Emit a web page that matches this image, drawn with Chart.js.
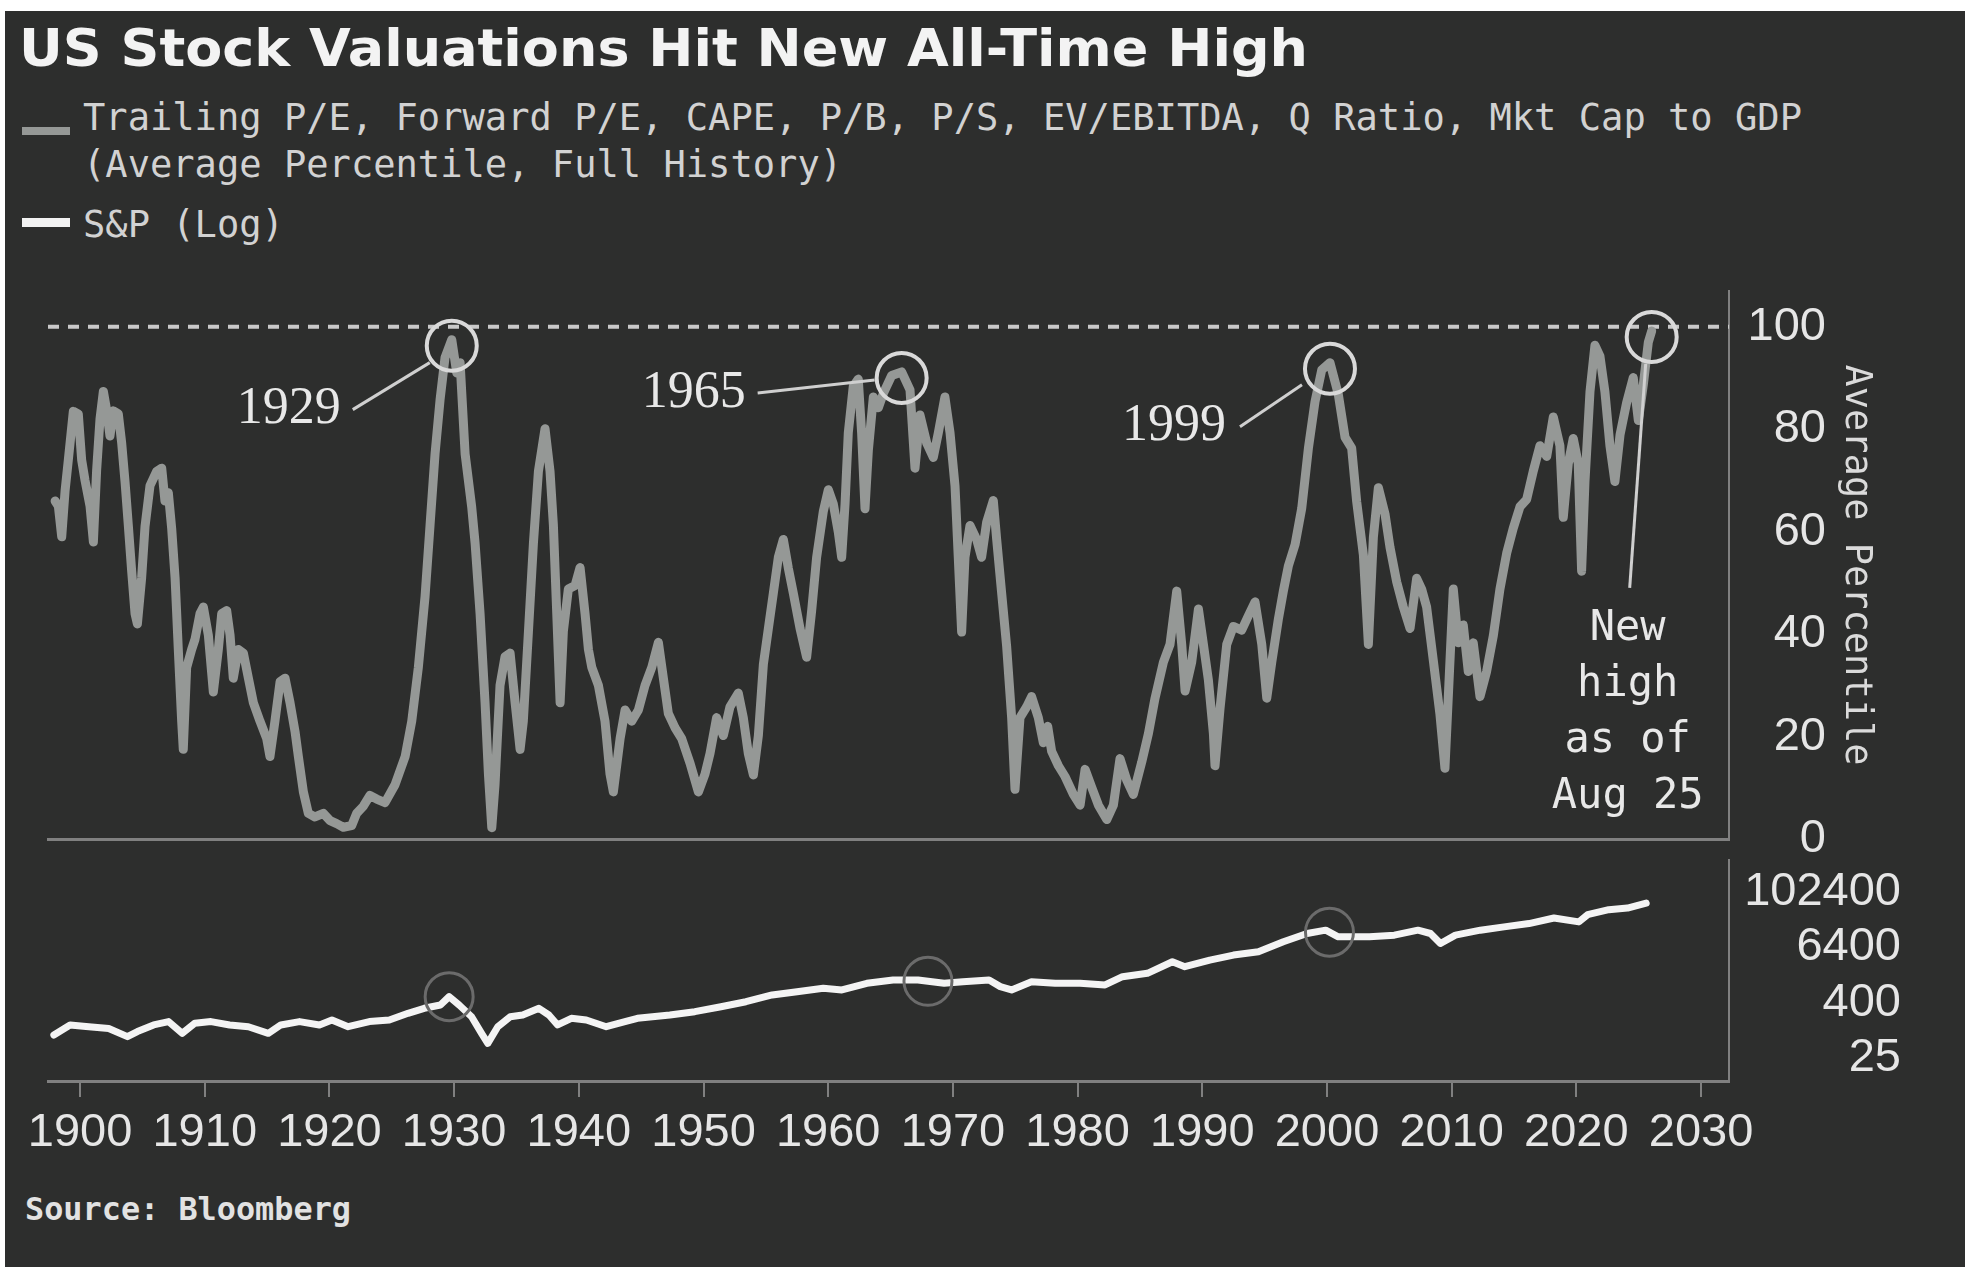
<!DOCTYPE html>
<html>
<head>
<meta charset="utf-8">
<title>US Stock Valuations Hit New All-Time High</title>
<script src="https://cdn.jsdelivr.net/npm/chart.js@4.4.1/dist/chart.umd.min.js"></script>
<style>
  html, body { margin: 0; padding: 0; width: 1965px; height: 1267px; overflow: hidden; background: #fff; }
  #panel { position: absolute; left: 5px; top: 11px; right: 0; bottom: 0; background: #2d2e2d; }
  canvas { position: absolute; left: 0; top: 0; }
  .txt { position: absolute; left: 0; top: 0; white-space: pre; transform-origin: 0 0; line-height: 1; }
  #title { font: bold 52px "DejaVu Sans", sans-serif; color: #f3f3f3; }
  .leg { font: 37px "DejaVu Sans Mono", monospace; color: #d2d2d2; }
  #source { font: bold 32px "DejaVu Sans Mono", monospace; color: #e2e2e2; }
  .swatch { position: absolute; left: 22px; width: 48px; }
</style>
</head>
<body>
<div id="panel"></div>
<div class="txt" id="title">US Stock Valuations Hit New All-Time High</div>
<div class="swatch" style="top:127px;height:8px;background:#959896"></div>
<div class="txt leg" id="leg1">Trailing P/E, Forward P/E, CAPE, P/B, P/S, EV/EBITDA, Q Ratio, Mkt Cap to GDP</div>
<div class="txt leg" id="leg2">(Average Percentile, Full History)</div>
<div class="swatch" style="top:218px;height:9px;background:#f2f2f2"></div>
<div class="txt leg" id="leg3">S&amp;P (Log)</div>
<div class="txt" id="source">Source: Bloomberg</div>
<canvas id="pct" width="1965" height="1267"></canvas>
<canvas id="spx" width="1965" height="1267"></canvas>
<script>
// average valuation percentile (0-100)
const pctYears = [
  1898.0, 1898.26, 1898.53, 1898.8, 1899.06, 1899.46, 1899.86, 1900.13, 1900.4, 1900.8,
  1901.07, 1901.33, 1901.6, 1901.87, 1902.14, 1902.4, 1902.67, 1903.07, 1903.34, 1903.61,
  1903.87, 1904.14, 1904.41, 1904.6, 1904.94, 1905.21, 1905.61, 1906.15, 1906.55, 1906.81,
  1907.08, 1907.35, 1907.62, 1907.88, 1908.15, 1908.28, 1908.55, 1908.95, 1909.22, 1909.62,
  1909.89, 1910.29, 1910.69, 1911.09, 1911.36, 1911.76, 1912.03, 1912.29, 1912.69, 1913.1,
  1913.5, 1913.9, 1914.43, 1914.97, 1915.23, 1915.63, 1916.04, 1916.44, 1916.84, 1917.24,
  1917.51, 1917.91, 1918.31, 1918.84, 1919.51, 1920.05, 1920.58, 1921.11, 1921.78, 1922.18,
  1922.72, 1923.25, 1923.79, 1924.46, 1925.26, 1926.07, 1926.6, 1927.13, 1927.67, 1928.07,
  1928.47, 1928.87, 1929.27, 1929.81, 1930.21, 1930.48, 1930.88, 1931.41, 1931.68, 1932.08,
  1932.48, 1932.75, 1933.02, 1933.28, 1933.68, 1934.08, 1934.49, 1934.89, 1935.29, 1935.55,
  1935.96, 1936.36, 1936.76, 1937.29, 1937.69, 1937.96, 1938.23, 1938.5, 1938.76, 1939.16,
  1939.7, 1940.1, 1940.5, 1940.77, 1941.04, 1941.57, 1942.1, 1942.5, 1942.77, 1943.31,
  1943.71, 1944.24, 1944.78, 1945.31, 1945.85, 1946.38, 1946.78, 1947.18, 1947.72, 1948.25,
  1948.92, 1949.59, 1950.12, 1950.52, 1951.05, 1951.59, 1952.12, 1952.79, 1953.19, 1953.59,
  1954.0, 1954.4, 1954.8, 1955.2, 1955.6, 1956.0, 1956.4, 1956.8, 1957.2, 1957.74,
  1958.27, 1958.67, 1959.07, 1959.61, 1960.01, 1960.41, 1960.81, 1961.08, 1961.35, 1961.61,
  1962.01, 1962.41, 1962.68, 1962.95, 1963.22, 1963.62, 1964.02, 1964.42, 1965.09, 1965.89,
  1966.56, 1966.96, 1967.36, 1967.9, 1968.43, 1968.83, 1969.36, 1969.77, 1970.17, 1970.43,
  1970.7, 1970.97, 1971.37, 1971.9, 1972.3, 1972.71, 1973.24, 1973.51, 1973.91, 1974.31,
  1974.71, 1974.98, 1975.38, 1975.91, 1976.31, 1976.85, 1977.25, 1977.6, 1977.92, 1978.46,
  1978.99, 1979.66, 1980.2, 1980.6, 1981.13, 1981.67, 1982.34, 1982.87, 1983.4, 1983.94,
  1984.47, 1985.14, 1985.68, 1986.21, 1986.88, 1987.41, 1987.95, 1988.35, 1988.62, 1989.15,
  1989.69, 1990.09, 1990.49, 1990.89, 1991.02, 1991.42, 1991.96, 1992.49, 1993.16, 1993.7,
  1994.23, 1994.77, 1995.17, 1995.57, 1996.1, 1996.5, 1996.9, 1997.44, 1997.97, 1998.51,
  1999.04, 1999.58, 2000.24, 2000.91, 2001.45, 2001.98, 2002.38, 2002.92, 2003.32, 2003.72,
  2004.12, 2004.65, 2005.05, 2005.59, 2006.12, 2006.66, 2007.19, 2007.59, 2007.99, 2008.53,
  2009.06, 2009.46, 2009.73, 2010.13, 2010.53, 2010.93, 2011.33, 2011.73, 2012.27, 2012.8,
  2013.34, 2013.87, 2014.41, 2014.94, 2015.48, 2016.01, 2016.55, 2017.08, 2017.62, 2018.15,
  2018.68, 2018.95, 2019.35, 2019.75, 2020.15, 2020.42, 2020.69, 2021.09, 2021.49, 2021.89,
  2022.29, 2022.69, 2023.09, 2023.5, 2024.03, 2024.56, 2024.97, 2025.37, 2025.77, 2026.04
];
const pctValues = [
  66, 65, 59, 68, 74, 83.5, 83, 74, 70, 65,
  58, 72, 82, 87.4, 83.6, 78.7, 83.6, 83, 77.3, 69.7,
  61.3, 52.3, 44, 42, 51, 61, 69, 71.8, 72.4, 66,
  67.6, 60.6, 51, 37, 23, 17.5, 33.5, 37, 39, 44,
  45.3, 39.8, 28.7, 37, 44, 44.6, 39.8, 31.4, 37, 36.3,
  31.4, 26.6, 23, 19.6, 16.1, 23, 30.7, 31.4, 26.6, 21,
  16.1, 9.2, 5, 4.3, 5, 3.6, 3, 2.3, 2.6, 5,
  6.4, 8.5, 7.8, 7.1, 10.6, 16.1, 23, 33.5, 47.4, 61.3,
  75.2, 85.7, 94, 97.5, 91, 93, 75.2, 64.8, 57.8, 44,
  26.6, 12.7, 2.2, 10.6, 30, 35.6, 36.3, 26.6, 17.5, 23,
  40.5, 57.8, 71.8, 80.1, 71.8, 61.3, 44, 26.6, 40.5, 48.8,
  49.5, 53, 44, 37, 33.5, 30, 23, 12.7, 9.2, 19.6,
  25.2, 23, 25.2, 30, 33.5, 38.4, 31.4, 24.5, 21.7, 19.6,
  14.8, 9.2, 12.7, 16.7, 23.7, 20.2, 25.8, 28.5, 23.7, 16.7,
  12.5, 20.2, 34.1, 41.1, 48, 55, 58.5, 52.9, 48, 41.1,
  35.5, 44.5, 55, 64, 68.2, 65.4, 59.9, 55, 65.4, 79.3,
  88.4, 89.8, 79.3, 64.5, 75.9, 86.3, 84.2, 87, 90.5, 91.2,
  87.7, 72.4, 82.8, 77.3, 74.5, 79.3, 86.3, 79.3, 68.9, 55,
  40.4, 55, 61.2, 58.5, 55, 61.9, 66.1, 58.5, 48, 37.6,
  23.7, 9.7, 23.7, 25.8, 27.8, 23.7, 18.8, 22, 17.1, 14.3,
  12.2, 8.7, 6.6, 13.6, 10.1, 6.6, 3.8, 6.6, 15.7, 11.5,
  8.7, 15, 20.6, 27.5, 34.5, 38, 48.4, 38, 28.9, 34.5,
  44.9, 38, 31, 20.6, 14.3, 25.4, 38, 41.5, 40.8, 43.6,
  46.3, 38, 27.5, 34.5, 42.9, 48.4, 53.3, 57.5, 64.5, 76.3,
  85.4, 91.6, 93, 86.8, 78.4, 76.3, 65.9, 55.4, 38, 58.9,
  68.6, 63.5, 57, 50.2, 45.3, 41.1, 50.9, 48.8, 45.3, 34.8,
  24.3, 13.8, 27.8, 48.8, 38.3, 41.8, 32.7, 38.3, 27.8, 32.7,
  39.7, 48.8, 55.8, 60.7, 64.9, 66.3, 71.9, 76.8, 74.7, 82.4,
  76.8, 62.8, 73.3, 78.2, 73.3, 52.3, 69.8, 87.3, 96.4, 94.3,
  87.3, 76.8, 69.8, 78.9, 85.2, 90.1, 81.7, 88.7, 97, 99.2
];

// S&P index level, plotted on a log axis
const spxYears = [
  1897.9, 1899.2, 1900.7, 1902.3, 1903.8, 1904.6, 1905.9, 1907.1, 1908.2, 1909.2,
  1910.5, 1912.0, 1913.5, 1915.1, 1916.1, 1917.6, 1919.2, 1920.2, 1921.5, 1923.2,
  1924.8, 1926.3, 1927.6, 1928.9, 1929.6, 1930.4, 1931.4, 1932.2, 1932.7, 1933.5,
  1934.5, 1935.5, 1936.8, 1937.6, 1938.3, 1939.4, 1940.6, 1942.2, 1943.7, 1944.7,
  1947.3, 1949.3, 1951.4, 1953.4, 1955.5, 1957.5, 1959.6, 1961.1, 1963.1, 1965.2,
  1967.2, 1969.3, 1970.8, 1972.9, 1973.8, 1974.7, 1976.3, 1978.2, 1980.2, 1982.2,
  1983.6, 1985.6, 1987.6, 1988.6, 1990.6, 1992.5, 1994.5, 1996.5, 1998.4, 1999.9,
  2000.9, 2002.1, 2003.4, 2005.4, 2007.3, 2008.3, 2009.1, 2010.3, 2012.3, 2014.2,
  2016.2, 2018.2, 2020.2, 2020.9, 2022.6, 2024.1, 2025.6
];
const spxValues = [
  79, 131, 120, 110, 73, 94, 131, 155, 86, 142,
  155, 131, 120, 86, 131, 155, 131, 168, 120, 155,
  168, 235, 302, 356, 541, 356, 198, 86, 52, 120,
  198, 216, 302, 216, 131, 183, 168, 120, 155, 183,
  216, 255, 327, 420, 588, 694, 822, 757, 1055, 1247,
  1247, 1055, 1147, 1247, 894, 757, 1147, 1055, 1055, 972,
  1473, 1739, 3112, 2425, 3382, 4340, 5125, 8443, 12800, 15130,
  10840, 10840, 10840, 11780, 15130, 12800, 7772, 11780, 15130, 17860,
  21080, 27800, 22900, 32840, 42160, 45820, 58760
];

const yearTicks = [1900, 1910, 1920, 1930, 1940, 1950, 1960, 1970, 1980, 1990, 2000, 2010, 2020, 2030];
const pctTicks = [0, 20, 40, 60, 80, 100];
const spxTicks = [25, 400, 6400, 102400];
const refLevel = 100;            // dotted "all-time high" line
const spxMarkYears = [1929.6, 1968.0, 2000.2];

// shared x range and plot edges
const xMin = 1897.43, xMax = 2032.24;
const plotLeft = 48, plotRight = 1729;
const pctLabelEdge = 1826, spxLabelEdge = 1901;   // right edge of the value labels
const W = 1965, H = 1267;

const tickFont = { family: '"Liberation Sans", sans-serif', size: 47 };
const tickColor = '#e6e6e6';
const axisColor = '#808080';

// header text is placed by baseline and stretched to its column width
function place(id, x, baseline, width, scale) {
  const el = document.getElementById(id);
  const probe = document.createElement('span');
  probe.style.cssText = 'display:inline-block;width:0;height:0;vertical-align:baseline';
  el.appendChild(probe);
  const off = probe.getBoundingClientRect().top - el.getBoundingClientRect().top;
  el.style.left = x + 'px';
  el.style.top = (baseline - off) + 'px';
  const s = scale || (width ? width / el.getBoundingClientRect().width : 1);
  el.style.transform = `scaleX(${s})`;
  return s;
}
place('title', 19, 66, 1289);
const legScale = place('leg1', 83, 130, 1719);
place('leg2', 83, 177, 0, legScale);
place('leg3', 83, 237, 0, legScale);
place('source', 25, 1220, 326);

// call-outs: circle on the peak, leader line and label, offsets from the circle centre
const peakNotes = [
  { text: ['1929'], from: 1927, to: 1932, label: [-163, 64], lead: [[-99, 64], [-22, 17]], serif: true },
  { text: ['1965'], from: 1963, to: 1968, label: [-208, 15], lead: [[-144, 15], [-27, 2]], serif: true },
  { text: ['1999'], from: 1998, to: 2002, label: [-156, 58], lead: [[-90, 58], [-28, 16]], serif: true },
  { text: ['New', 'high', 'as of', 'Aug 25'], from: 2025, to: 2027, label: [-24, 292], lead: [[-6, 27], [-22, 251]], serif: false }
];

const peakNotesPlugin = {
  id: 'peakNotes',
  afterDatasetsDraw(chart) {
    const { ctx, scales: { x, y } } = chart;
    ctx.save();
    peakNotes.forEach(n => {
      let best = -1;
      pctYears.forEach((yr, i) => {
        if (yr >= n.from && yr <= n.to && (best < 0 || pctValues[i] > pctValues[best])) best = i;
      });
      const cx = x.getPixelForValue(pctYears[best]);
      const cy = y.getPixelForValue(pctValues[best]) + 6;
      ctx.strokeStyle = '#d9d9d9';
      ctx.lineWidth = 4;
      ctx.beginPath();
      ctx.arc(cx, cy, 25, 0, Math.PI * 2);
      ctx.stroke();
      ctx.strokeStyle = '#cfcfcf';
      ctx.lineWidth = 3;
      ctx.beginPath();
      ctx.moveTo(cx + n.lead[0][0], cy + n.lead[0][1]);
      ctx.lineTo(cx + n.lead[1][0], cy + n.lead[1][1]);
      ctx.stroke();
      ctx.fillStyle = '#e8e8e8';
      ctx.textAlign = 'center';
      ctx.textBaseline = 'middle';
      ctx.font = n.serif ? '52px "Liberation Serif", serif' : '42px "DejaVu Sans Mono", monospace';
      n.text.forEach((t, k) => ctx.fillText(t, cx + n.label[0], cy + n.label[1] + k * 56));
    });
    ctx.restore();
  }
};

const spxMarksPlugin = {
  id: 'spxMarks',
  afterDatasetsDraw(chart) {
    const { ctx, scales: { x, y } } = chart;
    ctx.save();
    ctx.strokeStyle = '#6b6b6b';
    ctx.lineWidth = 3;
    spxMarkYears.forEach(yr => {
      const i = spxYears.findIndex(v => v >= yr);
      const t = (yr - spxYears[i - 1]) / (spxYears[i] - spxYears[i - 1]);
      const v = Math.exp(Math.log(spxValues[i - 1]) * (1 - t) + Math.log(spxValues[i]) * t);
      ctx.beginPath();
      ctx.arc(x.getPixelForValue(yr), y.getPixelForValue(v), 24, 0, Math.PI * 2);
      ctx.stroke();
    });
    ctx.restore();
  }
};

const common = {
  responsive: false,
  animation: false,
  events: [],
  plugins: { legend: { display: false }, tooltip: { enabled: false } }
};

// valuation percentile panel
new Chart(document.getElementById('pct'), {
  type: 'line',
  data: {
    datasets: [
      {
        data: pctYears.map((x, i) => ({ x, y: pctValues[i] })),
        borderColor: '#959896', borderWidth: 9, pointRadius: 0,
        borderJoinStyle: 'round', borderCapStyle: 'round'
      },
      {
        data: [{ x: xMin, y: refLevel }, { x: xMax, y: refLevel }],
        borderColor: '#c9c9c9', borderWidth: 4, borderDash: [11, 9], pointRadius: 0
      }
    ]
  },
  options: {
    ...common,
    layout: { padding: { left: plotLeft, top: 291, right: W - pctLabelEdge, bottom: H - 839 } },
    scales: {
      x: {
        type: 'linear', min: xMin, max: xMax,
        ticks: { display: false },
        grid: { display: false, drawTicks: false },
        border: { display: true, color: axisColor, width: 3 },
        afterFit: s => { s.height = 0; }
      },
      y: {
        type: 'linear', position: 'right', min: 0, max: 107,
        afterBuildTicks: s => { s.ticks = pctTicks.map(v => ({ value: v })); },
        ticks: { font: tickFont, color: tickColor, autoSkip: false, crossAlign: 'far' },
        grid: { display: false, drawTicks: false },
        border: { display: true, color: axisColor, width: 2 },
        title: {
          display: true, text: 'Average Percentile', color: '#dadada',
          font: { family: '"DejaVu Sans Mono", monospace', size: 37 },
          // the title sits outside the label column, past the axis box edge
          padding: { top: -52, bottom: 0 }
        },
        afterFit: s => { s.width = pctLabelEdge - plotRight; }
      }
    }
  },
  plugins: [peakNotesPlugin]
});

// S&P panel, log scale
new Chart(document.getElementById('spx'), {
  type: 'line',
  data: {
    datasets: [{
      data: spxYears.map((x, i) => ({ x, y: spxValues[i] })),
      borderColor: '#f4f4f4', borderWidth: 7, pointRadius: 0,
      borderJoinStyle: 'round', borderCapStyle: 'round'
    }]
  },
  options: {
    ...common,
    layout: { padding: { left: plotLeft, top: 860, right: W - spxLabelEdge, bottom: H - 1081 - 100 } },
    scales: {
      x: {
        type: 'linear', min: xMin, max: xMax,
        afterBuildTicks: s => { s.ticks = yearTicks.map(v => ({ value: v })); },
        ticks: {
          font: tickFont, color: tickColor, autoSkip: false, maxRotation: 0, minRotation: 0,
          padding: 8, callback: v => String(v)
        },
        grid: { drawOnChartArea: false, drawTicks: true, tickLength: 16, color: axisColor, lineWidth: 2 },
        border: { display: true, color: axisColor, width: 3 },
        afterFit: s => { s.height = 100; }
      },
      y: {
        type: 'logarithmic', position: 'right', min: 7.9, max: 509000,
        afterBuildTicks: s => { s.ticks = spxTicks.map(v => ({ value: v })); },
        ticks: {
          font: tickFont, color: tickColor, autoSkip: false, crossAlign: 'far',
          callback: v => String(v)
        },
        grid: { display: false, drawTicks: false },
        border: { display: true, color: axisColor, width: 2 },
        afterFit: s => { s.width = spxLabelEdge - plotRight; }
      }
    }
  },
  plugins: [spxMarksPlugin]
});
</script>
</body>
</html>
